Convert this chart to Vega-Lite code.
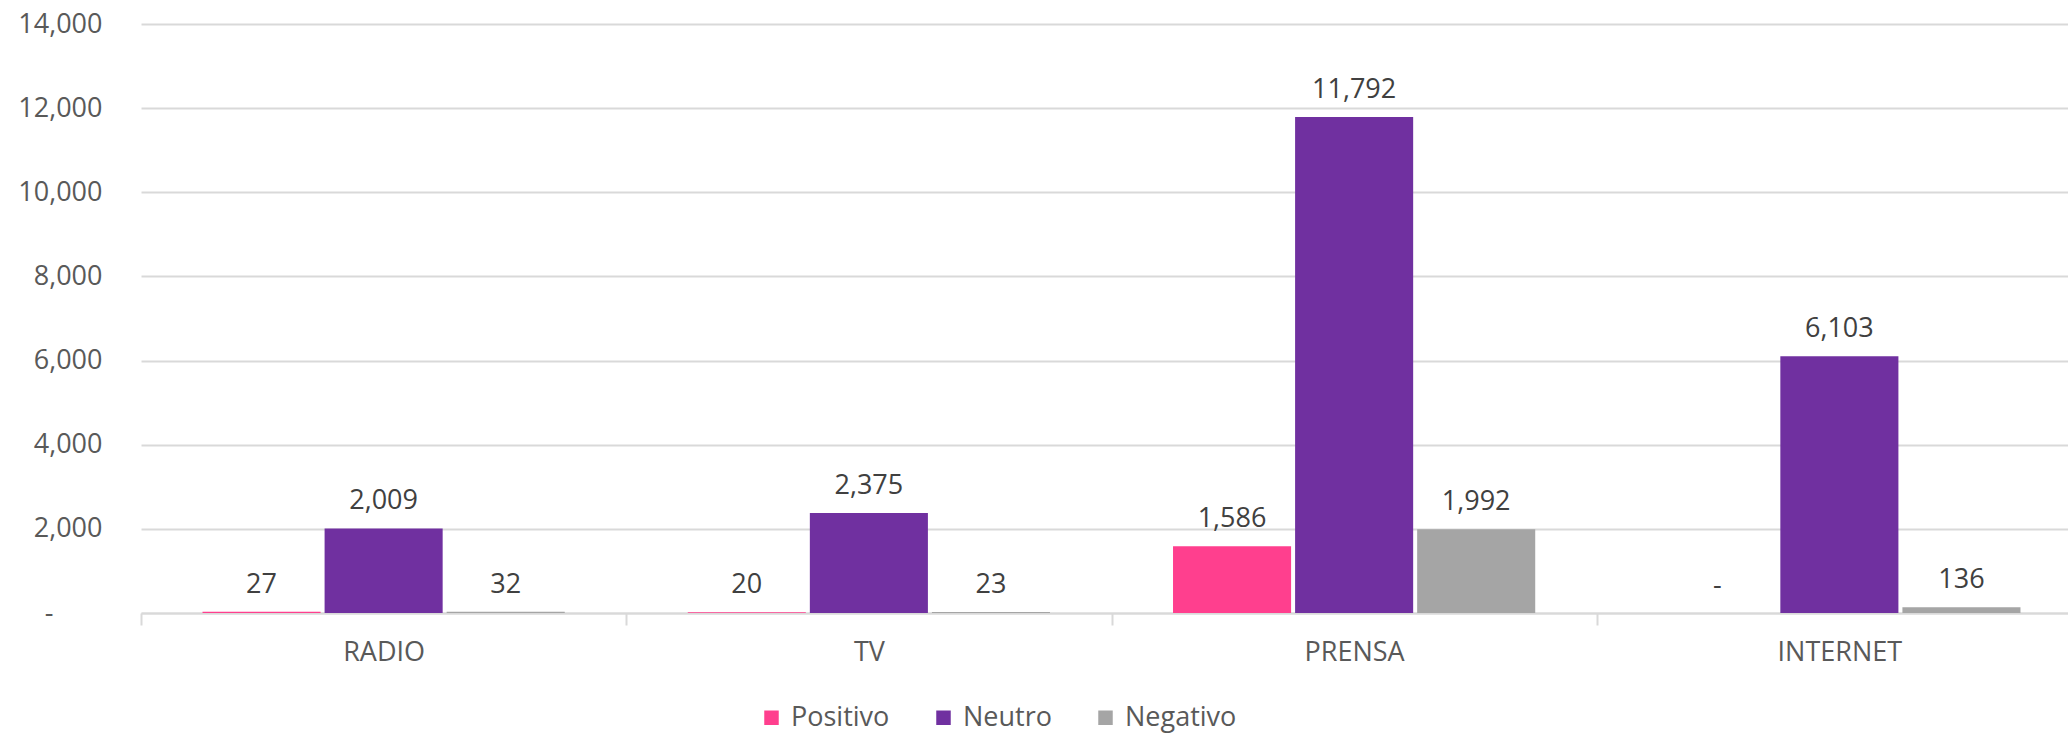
{
  "$schema": "https://vega.github.io/schema/vega-lite/v6.json",
  "width": 1927,
  "height": 589,
  "autosize": {"type": "none"},
  "padding": {"left": 141, "top": 24, "right": 0, "bottom": 120},
  "background": "white",
  "config": {"view": {"stroke": null}, "font": "Open Sans"},
  "data": {
    "values": [
      {"medio": "RADIO", "tono": "Positivo", "value": 27},
      {"medio": "RADIO", "tono": "Neutro", "value": 2009},
      {"medio": "RADIO", "tono": "Negativo", "value": 32},
      {"medio": "TV", "tono": "Positivo", "value": 20},
      {"medio": "TV", "tono": "Neutro", "value": 2375},
      {"medio": "TV", "tono": "Negativo", "value": 23},
      {"medio": "PRENSA", "tono": "Positivo", "value": 1586},
      {"medio": "PRENSA", "tono": "Neutro", "value": 11792},
      {"medio": "PRENSA", "tono": "Negativo", "value": 1992},
      {"medio": "INTERNET", "tono": "Positivo", "value": 0},
      {"medio": "INTERNET", "tono": "Neutro", "value": 6103},
      {"medio": "INTERNET", "tono": "Negativo", "value": 136}
    ]
  },
  "encoding": {
    "x": {
      "field": "medio",
      "type": "nominal",
      "sort": ["RADIO", "TV", "PRENSA", "INTERNET"],
      "scale": {"range": [0, 1941], "paddingInner": 0, "paddingOuter": 0},
      "axis": {
        "title": null,
        "labelAngle": 0,
        "labelFontSize": 27,
        "labelColor": "#595959",
        "labelPadding": 14,
        "domainColor": "#d9d9d9",
        "domainWidth": 2,
        "tickColor": "#d9d9d9",
        "tickWidth": 2,
        "tickSize": 12,
        "tickBand": "extent",
        "grid": false
      }
    },
    "xOffset": {
      "field": "tono",
      "type": "nominal",
      "sort": ["Positivo", "Neutro", "Negativo"],
      "scale": {"paddingInner": 0.0328, "paddingOuter": 0.504}
    },
    "y": {
      "field": "value",
      "type": "quantitative",
      "scale": {"domain": [0, 14000], "nice": false},
      "axis": {
        "title": null,
        "values": [0, 2000, 4000, 6000, 8000, 10000, 12000, 14000],
        "labelExpr": "datum.value === 0 ? '-' : format(datum.value, ',')",
        "labelFontSize": 27,
        "labelColor": "#595959",
        "labelPadding": {"condition": {"test": "datum.value === 0", "value": 88}, "value": 39},
        "domain": false,
        "ticks": false,
        "grid": true,
        "gridColor": "#d9d9d9",
        "gridWidth": 2
      }
    }
  },
  "layer": [
    {
      "mark": {"type": "bar"},
      "encoding": {
        "color": {
          "field": "tono",
          "type": "nominal",
          "sort": ["Positivo", "Neutro", "Negativo"],
          "scale": {"domain": ["Positivo", "Neutro", "Negativo"], "range": ["#FF3F8E", "#7030A0", "#A5A5A5"]},
          "legend": {
            "title": null,
            "orient": "none",
            "legendX": 617,
            "legendY": 680,
            "direction": "horizontal",
            "symbolType": "square",
            "symbolSize": 210,
            "symbolStrokeWidth": 0,
            "labelFontSize": 27,
            "labelColor": "#595959",
            "labelOffset": 6,
            "columnPadding": 40
          }
        }
      }
    },
    {
      "mark": {"type": "text", "baseline": "alphabetic", "dy": -19, "fontSize": 27, "color": "#404040"},
      "encoding": {
        "text": {
          "condition": {"test": "datum.value === 0", "value": "-"},
          "field": "value",
          "type": "quantitative",
          "format": ","
        }
      }
    }
  ]
}
